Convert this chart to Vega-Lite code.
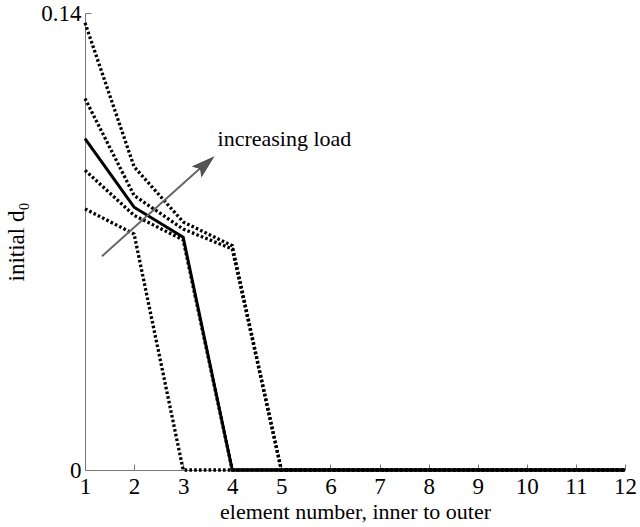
{
  "$schema": "https://vega.github.io/schema/vega-lite/v6.json",
  "width": 540,
  "height": 457,
  "autosize": {"type": "none"},
  "padding": {"left": 85, "top": 13, "right": 15, "bottom": 57},
  "background": "white",
  "config": {
    "view": {"stroke": null},
    "font": "Liberation Serif"
  },
  "datasets": {
    "lines": [
      {"series": "L1", "x": 1, "y": 0.080}, {"series": "L1", "x": 2, "y": 0.0723}, {"series": "L1", "x": 3, "y": 0}, {"series": "L1", "x": 4, "y": 0}, {"series": "L1", "x": 5, "y": 0}, {"series": "L1", "x": 6, "y": 0}, {"series": "L1", "x": 7, "y": 0}, {"series": "L1", "x": 8, "y": 0}, {"series": "L1", "x": 9, "y": 0}, {"series": "L1", "x": 10, "y": 0}, {"series": "L1", "x": 11, "y": 0}, {"series": "L1", "x": 12, "y": 0},
      {"series": "L2", "x": 1, "y": 0.0918}, {"series": "L2", "x": 2, "y": 0.078}, {"series": "L2", "x": 3, "y": 0.0705}, {"series": "L2", "x": 4, "y": 0}, {"series": "L2", "x": 5, "y": 0}, {"series": "L2", "x": 6, "y": 0}, {"series": "L2", "x": 7, "y": 0}, {"series": "L2", "x": 8, "y": 0}, {"series": "L2", "x": 9, "y": 0}, {"series": "L2", "x": 10, "y": 0}, {"series": "L2", "x": 11, "y": 0}, {"series": "L2", "x": 12, "y": 0},
      {"series": "L4", "x": 1, "y": 0.1138}, {"series": "L4", "x": 2, "y": 0.0841}, {"series": "L4", "x": 3, "y": 0.0738}, {"series": "L4", "x": 4, "y": 0.0677}, {"series": "L4", "x": 5, "y": 0}, {"series": "L4", "x": 6, "y": 0}, {"series": "L4", "x": 7, "y": 0}, {"series": "L4", "x": 8, "y": 0}, {"series": "L4", "x": 9, "y": 0}, {"series": "L4", "x": 10, "y": 0}, {"series": "L4", "x": 11, "y": 0}, {"series": "L4", "x": 12, "y": 0},
      {"series": "L5", "x": 1, "y": 0.137}, {"series": "L5", "x": 2, "y": 0.0929}, {"series": "L5", "x": 3, "y": 0.076}, {"series": "L5", "x": 4, "y": 0.0687}, {"series": "L5", "x": 5, "y": 0}, {"series": "L5", "x": 6, "y": 0}, {"series": "L5", "x": 7, "y": 0}, {"series": "L5", "x": 8, "y": 0}, {"series": "L5", "x": 9, "y": 0}, {"series": "L5", "x": 10, "y": 0}, {"series": "L5", "x": 11, "y": 0}, {"series": "L5", "x": 12, "y": 0},
      {"series": "L3", "x": 1, "y": 0.1015}, {"series": "L3", "x": 2, "y": 0.0805}, {"series": "L3", "x": 3, "y": 0.0713}, {"series": "L3", "x": 4, "y": 0}, {"series": "L3", "x": 5, "y": 0}, {"series": "L3", "x": 6, "y": 0}, {"series": "L3", "x": 7, "y": 0}, {"series": "L3", "x": 8, "y": 0}, {"series": "L3", "x": 9, "y": 0}, {"series": "L3", "x": 10, "y": 0}, {"series": "L3", "x": 11, "y": 0}, {"series": "L3", "x": 12, "y": 0}
    ],
    "arrow": [{"x": 1.346, "y": 0.0655, "x2": 3.5, "y2": 0.0945}],
    "head": [{"x": 3.434, "y": 0.0934}],
    "label": [{"x": 3.7, "y": 0.1015, "text": "increasing load"}]
  },
  "layer": [
    {
      "data": {"name": "lines"},
      "transform": [{"filter": "datum.series !== 'L3'"}],
      "mark": {"type": "line", "color": "black", "strokeWidth": 3.3, "strokeDash": [2.6, 2.2], "clip": false},
      "encoding": {
        "x": {"field": "x", "type": "quantitative", "scale": {"domain": [1, 12], "nice": false, "zero": false},
          "axis": {"values": [1,2,3,4,5,6,7,8,9,10,11,12], "title": "element number, inner to outer", "grid": false,
            "domainColor": "#777", "tickColor": "#777", "tickSize": -6, "labelPadding": 11, "labelFontSize": 23, "labelColor": "black",
            "labelFont": "Liberation Serif", "titleFont": "Liberation Serif", "titleFontSize": 22, "titleFontWeight": "normal", "titleColor": "black", "titlePadding": 3, "labelFlush": false}},
        "y": {"field": "y", "type": "quantitative", "scale": {"domain": [0, 0.14], "nice": false},
          "axis": {"values": [0, 0.14], "format": "~g", "title": "initial d₀", "grid": false,
            "domainColor": "#777", "tickColor": "#777", "tickSize": -6, "labelPadding": 10, "labelFontSize": 23, "labelColor": "black",
            "labelFont": "Liberation Serif", "titleFont": "Liberation Serif", "titleFontSize": 23, "titleFontWeight": "normal", "titleColor": "black", "titlePadding": 12}},
        "detail": {"field": "series"}
      }
    },
    {
      "data": {"name": "lines"},
      "transform": [{"filter": "datum.series === 'L3'"}],
      "mark": {"type": "line", "color": "black", "strokeWidth": 3, "clip": false},
      "encoding": {
        "x": {"field": "x", "type": "quantitative"},
        "y": {"field": "y", "type": "quantitative"}
      }
    },
    {
      "data": {"name": "arrow"},
      "mark": {"type": "rule", "color": "#666", "strokeWidth": 2},
      "encoding": {
        "x": {"field": "x", "type": "quantitative"},
        "y": {"field": "y", "type": "quantitative"},
        "x2": {"field": "x2"},
        "y2": {"field": "y2"}
      }
    },
    {
      "data": {"name": "head"},
      "mark": {"type": "point", "shape": "M0,-1L0.55,0.8L0,0.45L-0.55,0.8Z", "filled": true, "color": "#555", "opacity": 1, "size": 550, "angle": 48.6, "stroke": "#444", "strokeWidth": 1},
      "encoding": {
        "x": {"field": "x", "type": "quantitative"},
        "y": {"field": "y", "type": "quantitative"}
      }
    },
    {
      "data": {"name": "label"},
      "mark": {"type": "text", "align": "left", "baseline": "middle", "fontSize": 22, "font": "Liberation Serif", "color": "black"},
      "encoding": {
        "x": {"field": "x", "type": "quantitative"},
        "y": {"field": "y", "type": "quantitative"},
        "text": {"field": "text"}
      }
    }
  ]
}
